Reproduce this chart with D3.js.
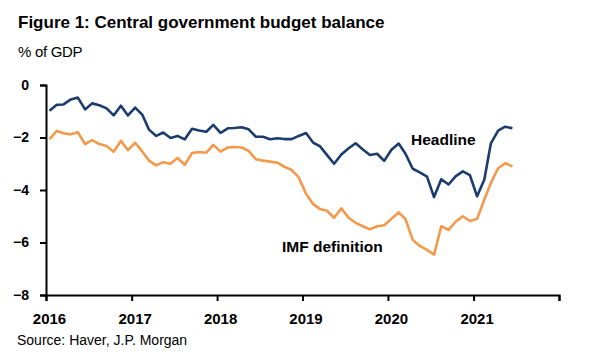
<!DOCTYPE html>
<html>
<head>
<meta charset="utf-8">
<script src="https://cdn.jsdelivr.net/npm/d3@7"></script>
<style>
  html, body { margin: 0; padding: 0; background: #fff; }
  svg { display: block; font-family: "Liberation Sans", Arial, sans-serif; }
</style>
</head>
<body>
<svg id="chart" width="600" height="358"></svg>
<script>
// Monthly data, Jan 2016 – Jun 2021 (% of GDP)
const startYear = 2016;
const headline = [
  -0.98, -0.75, -0.74, -0.55, -0.48, -0.93, -0.70, -0.77, -0.89, -1.16, -0.79, -1.16,
  -0.86, -1.14, -1.70, -1.94, -1.81, -2.02, -1.94, -2.07, -1.67, -1.73, -1.78, -1.52,
  -1.82, -1.65, -1.64, -1.61, -1.69, -1.97, -1.97, -2.07, -2.03, -2.06, -2.06, -1.94,
  -1.83, -2.20, -2.33, -2.67, -3.00, -2.65, -2.42, -2.22, -2.46, -2.67, -2.62, -2.89,
  -2.47, -2.23, -2.62, -3.19, -3.33, -3.49, -4.27, -3.59, -3.79, -3.48, -3.29, -3.43,
  -4.24, -3.60, -2.22, -1.74, -1.59, -1.65
];
const imfDefinition = [
  -2.06, -1.75, -1.84, -1.88, -1.80, -2.25, -2.10, -2.25, -2.32, -2.54, -2.13, -2.48,
  -2.20, -2.54, -2.88, -3.06, -2.94, -3.00, -2.78, -3.04, -2.59, -2.55, -2.58, -2.28,
  -2.54, -2.38, -2.36, -2.38, -2.51, -2.83, -2.88, -2.92, -2.96, -3.12, -3.24, -3.52,
  -4.14, -4.54, -4.72, -4.79, -5.06, -4.70, -5.05, -5.25, -5.38, -5.50, -5.38, -5.34,
  -5.10, -4.85, -5.11, -5.90, -6.13, -6.28, -6.46, -5.38, -5.52, -5.21, -5.00, -5.18,
  -5.10, -4.36, -3.73, -3.17, -2.98, -3.10
];
const yTicks = [0, -2, -4, -6, -8];
const xTickYears = [2016, 2017, 2018, 2019, 2020, 2021, 2022];
const xLabelYears = [2016, 2017, 2018, 2019, 2020, 2021];
const seriesNames = ["Headline", "IMF definition"];
const colors = ["#1B3C6E", "#F2994A"];

const svg = d3.select("#chart");
const plotLeft = 46, plotRight = 559, plotTop = 85, plotBottom = 295;

const x = d3.scaleTime()
  .domain([new Date(2016, 0, 1), new Date(2022, 0, 1)])
  .range([plotLeft, plotRight]);
const y = d3.scaleLinear().domain([-8, 0]).range([plotBottom, plotTop]);

const dateOf = i => new Date(startYear, i, 16);

// Title & subtitle
svg.append("text").attr("x", 18).attr("y", 28)
  .attr("font-size", 17).attr("font-weight", "bold").attr("fill", "#000")
  .text("Figure 1: Central government budget balance");
svg.append("text").attr("x", 18).attr("y", 57)
  .attr("font-size", 15).attr("fill", "#000").attr("letter-spacing", -0.3)
  .text("% of GDP");

// Lines
const line = d3.line().x((d, i) => x(dateOf(i))).y(d => y(d));
[headline, imfDefinition].forEach((s, k) => {
  svg.append("path").datum(s)
    .attr("fill", "none").attr("stroke", colors[k])
    .attr("stroke-width", 2.6).attr("stroke-linejoin", "round")
    .attr("d", line);
});

// Y axis
const yAxis = svg.append("g").attr("transform", `translate(${plotLeft},0)`)
  .call(d3.axisLeft(y).tickValues(yTicks).tickSize(6).tickPadding(11).tickFormat(d3.format("d")));
yAxis.select(".domain").attr("stroke", "#000").attr("stroke-width", 2);
yAxis.selectAll(".tick line").attr("stroke", "#000").attr("stroke-width", 2);
yAxis.selectAll(".tick text").attr("font-size", 14).attr("font-weight", "bold")
  .attr("fill", "#000").attr("font-family", "Liberation Sans, Arial, sans-serif");

// X axis
const xAxis = svg.append("g").attr("transform", `translate(0,${plotBottom})`)
  .call(d3.axisBottom(x)
    .tickValues(xTickYears.map(yr => new Date(yr, 0, 1)))
    .tickSize(6).tickPadding(12)
    .tickFormat(d => xLabelYears.includes(d.getFullYear()) ? String(d.getFullYear()) : ""));
xAxis.select(".domain").attr("stroke", "#000").attr("stroke-width", 2);
xAxis.selectAll(".tick line").attr("stroke", "#000").attr("stroke-width", 2);
xAxis.selectAll(".tick text").attr("font-size", 15).attr("font-weight", "bold")
  .attr("fill", "#000").attr("dx", 3)
  .attr("font-family", "Liberation Sans, Arial, sans-serif");

// Series labels
svg.append("text").attr("x", 411).attr("y", 145)
  .attr("font-size", 15.5).attr("font-weight", "bold").attr("fill", "#000")
  .text(seriesNames[0]);
svg.append("text").attr("x", 282).attr("y", 252)
  .attr("font-size", 15.5).attr("font-weight", "bold").attr("fill", "#000")
  .text(seriesNames[1]);

// Source
svg.append("text").attr("x", 17).attr("y", 345)
  .attr("font-size", 14).attr("fill", "#000")
  .text("Source: Haver, J.P. Morgan");
</script>
</body>
</html>
